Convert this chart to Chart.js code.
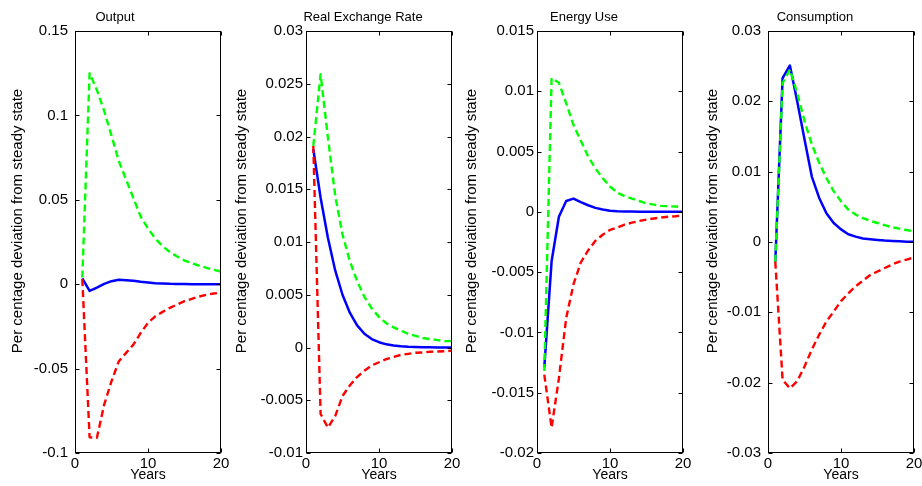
<!DOCTYPE html>
<html>
<head>
<meta charset="utf-8">
<title>Impulse responses</title>
<script src="https://cdn.jsdelivr.net/npm/chart.js@4.4.0/dist/chart.umd.min.js"></script>
<style>
  body { margin: 0; background: #fff; }
  #wrap { position: relative; width: 922px; height: 486px; overflow: hidden; background: #fff; }
  #wrap canvas { position: absolute; top: 0; }
</style>
</head>
<body>
<div id="wrap"></div>
<script>
const years = [1, 2, 3, 4, 5, 6, 7, 8, 9, 10, 11, 12, 13, 14, 15, 16, 17, 18, 19, 20];

// Output
const outputMid = [0.0034, -0.004, -0.002, 0.0002, 0.0018, 0.0026, 0.0024, 0.002, 0.0014, 0.001, 0.0006, 0.0004, 0.0002, 0.0001, 0.0001, 0, 0, 0, 0, 0];
const outputUpper = [0.004, 0.125, 0.115, 0.1026, 0.088, 0.073, 0.062, 0.051, 0.04, 0.033, 0.027, 0.0225, 0.019, 0.0164, 0.014, 0.0125, 0.011, 0.0097, 0.0085, 0.0075];
const outputLower = [0.003, -0.0907, -0.091, -0.0713, -0.0575, -0.0457, -0.0407, -0.0358, -0.0289, -0.0229, -0.019, -0.0164, -0.014, -0.012, -0.01, -0.0087, -0.0073, -0.0063, -0.0055, -0.005];

// Real exchange rate
const rerMid = [0.0188, 0.0142, 0.0104, 0.0073, 0.005, 0.0033, 0.0021, 0.0013, 0.0008, 0.0005, 0.0003, 0.0002, 0.00012, 0.00007, 0.00005, 0.00003, 0.00002, 0.00001, 0, 0];
const rerUpper = [0.0191, 0.0259, 0.0199, 0.0144, 0.0107, 0.0082, 0.0063, 0.0048, 0.0037, 0.0029, 0.0023, 0.0019, 0.0016, 0.0013, 0.0011, 0.0009, 0.0008, 0.0007, 0.0006, 0.0006];
const rerLower = [0.0191, -0.0063, -0.0076, -0.0065, -0.0046, -0.0036, -0.0028, -0.0022, -0.0017, -0.0014, -0.0011, -0.0009, -0.0007, -0.0006, -0.0005, -0.00047, -0.0004, -0.00038, -0.00035, -0.0003];

// Energy use
const energyMid = [-0.0129, -0.0041, -0.0004, 0.0009, 0.0011, 0.0008, 0.00055, 0.00033, 0.0002, 0.0001, 0.00005, 0.00003, 0.00002, 0.00001, 0, 0, 0, 0, 0, 0];
const energyUpper = [-0.0132, 0.0111, 0.0107, 0.009, 0.0072, 0.0059, 0.0046, 0.0036, 0.0028, 0.0021, 0.0016, 0.0013, 0.0011, 0.0009, 0.0007, 0.0006, 0.0005, 0.00047, 0.00044, 0.0004];
const energyLower = [-0.0135, -0.0179, -0.0138, -0.0088, -0.006, -0.0042, -0.0032, -0.0024, -0.0019, -0.0015, -0.0013, -0.00105, -0.0009, -0.00075, -0.00064, -0.00055, -0.00047, -0.0004, -0.00036, -0.0003];

// Consumption
const consMid = [-0.0028, 0.0233, 0.0251, 0.02, 0.0146, 0.0093, 0.0063, 0.0041, 0.0027, 0.0018, 0.0011, 0.00076, 0.0005, 0.0004, 0.0003, 0.0002, 0.00014, 0.0001, 0.00005, 0.00005];
const consUpper = [-0.0028, 0.0226, 0.0245, 0.0212, 0.0172, 0.0139, 0.0113, 0.0091, 0.0072, 0.0058, 0.0046, 0.0039, 0.0034, 0.003, 0.0027, 0.0024, 0.0021, 0.0019, 0.0017, 0.0015];
const consLower = [-0.0028, -0.0196, -0.0208, -0.0198, -0.0177, -0.0153, -0.0132, -0.0113, -0.0099, -0.0084, -0.0073, -0.0063, -0.0055, -0.0047, -0.0042, -0.0037, -0.0032, -0.0028, -0.0025, -0.0022];

const panelTitles = ['Output', 'Real Exchange Rate', 'Energy Use', 'Consumption'];
const yMin = [-0.1, -0.01, -0.02, -0.03];
const yMax = [0.15, 0.03, 0.015, 0.03];
const yStep = [0.05, 0.005, 0.005, 0.01];
const xTicks = [0, 10, 20];
const yTitle = 'Per centage deviation from steady state';
const xTitle = 'Years';

const panelSeries = [
    [outputMid, outputUpper, outputLower],
    [rerMid, rerUpper, rerLower],
    [energyMid, energyUpper, energyLower],
    [consMid, consUpper, consLower]
];

const FONT = '"Liberation Sans", Arial, sans-serif';
const CANVAS_W = 241;
const CANVAS_H = 486;
const AXIS_W = 75;     // space left of the plot box
const PLOT_W = 146;
const STEP_X = 231;    // distance between panels

// per panel placement of the hand-placed labels (relative to each canvas)
const titleX = [115, 132, 122, 122];
const yTitleX = [18, 11, 10, 20];
const yLabelPad = [7, 3, 3, 7];

function toPoints(values) {
    return years.map((yr, i) => ({ x: yr, y: values[i] }));
}

function fmt(v) {
    return String(parseFloat(v.toFixed(4)));
}

// MATLAB-like box with inward ticks on all four sides
const boxPlugin = {
    id: 'boxTicks',
    afterDatasetsDraw(chart) {
        const ctx = chart.ctx;
        const a = chart.chartArea;
        const L = Math.round(a.left) + 0.5;
        const R = Math.round(a.right) - 0.5;
        const T = Math.round(a.top) + 0.5;
        const B = Math.round(a.bottom) - 0.5;
        ctx.save();
        ctx.strokeStyle = '#000';
        ctx.lineWidth = 1;
        ctx.beginPath();
        chart.scales.y.ticks.forEach(t => {
            const py = Math.round(chart.scales.y.getPixelForValue(t.value)) + 0.5;
            ctx.moveTo(L, py); ctx.lineTo(L + 4, py);
            ctx.moveTo(R, py); ctx.lineTo(R - 4, py);
        });
        chart.scales.x.ticks.forEach(t => {
            const px = Math.round(chart.scales.x.getPixelForValue(t.value)) + 0.5;
            ctx.moveTo(px, B); ctx.lineTo(px, B - 4);
            ctx.moveTo(px, T); ctx.lineTo(px, T + 4);
        });
        ctx.stroke();
        ctx.strokeRect(L, T, R - L, B - T);
        ctx.restore();
    }
};

const labelPlugin = {
    id: 'panelLabels',
    afterDraw(chart, args, opts) {
        const ctx = chart.ctx;
        ctx.save();
        ctx.fillStyle = '#000';
        ctx.textAlign = 'center';
        ctx.textBaseline = 'middle';
        ctx.font = '13px ' + FONT;
        ctx.fillText(opts.title, opts.titleX, 17);
        ctx.translate(opts.yTitleX, 221);
        ctx.rotate(-Math.PI / 2);
        ctx.font = '15px ' + FONT;
        ctx.fillText(opts.yTitle, 0, 0);
        ctx.restore();
    }
};

function makePanel(idx) {
    const wrap = document.getElementById('wrap');
    const canvas = document.createElement('canvas');
    canvas.width = CANVAS_W;
    canvas.height = CANVAS_H;
    canvas.style.width = CANVAS_W + 'px';
    canvas.style.height = CANVAS_H + 'px';
    canvas.style.left = (idx * STEP_X) + 'px';
    wrap.appendChild(canvas);

    const [mid, upper, lower] = panelSeries[idx];

    return new Chart(canvas.getContext('2d'), {
        type: 'line',
        data: {
            datasets: [
                { label: 'lower', data: toPoints(lower), borderColor: '#ff0000', borderWidth: 2.4, borderDash: [7, 4] },
                { label: 'upper', data: toPoints(upper), borderColor: '#00ff00', borderWidth: 2.4, borderDash: [7, 4] },
                { label: 'mid', data: toPoints(mid), borderColor: '#0000ff', borderWidth: 2.5 }
            ]
        },
        options: {
            responsive: false,
            animation: false,
            events: [],
            elements: {
                point: { radius: 0 },
                line: { tension: 0, fill: false, borderJoinStyle: 'round' }
            },
            layout: {
                padding: { top: 31, bottom: 0, left: 0, right: CANVAS_W - AXIS_W - PLOT_W }
            },
            plugins: {
                legend: { display: false },
                tooltip: { enabled: false },
                panelLabels: {
                    title: panelTitles[idx],
                    titleX: titleX[idx],
                    yTitle: yTitle,
                    yTitleX: yTitleX[idx]
                }
            },
            scales: {
                x: {
                    type: 'linear',
                    min: 0,
                    max: 20,
                    afterBuildTicks: s => { s.ticks = xTicks.map(v => ({ value: v })); },
                    ticks: {
                        color: '#000',
                        font: { family: FONT, size: 15 },
                        padding: 2,
                        maxRotation: 0,
                        callback: v => fmt(v)
                    },
                    grid: { display: false, drawTicks: false },
                    border: { display: false },
                    title: {
                        display: true,
                        text: xTitle,
                        color: '#000',
                        font: { family: FONT, size: 14 },
                        padding: { top: 0, bottom: 2 }
                    },
                    afterFit: s => { s.height = 33; s.paddingLeft = 0; s.paddingRight = 0; }
                },
                y: {
                    min: yMin[idx],
                    max: yMax[idx],
                    ticks: {
                        stepSize: yStep[idx],
                        color: '#000',
                        font: { family: FONT, size: 15 },
                        padding: yLabelPad[idx],
                        callback: v => fmt(v)
                    },
                    grid: { display: false, drawTicks: false },
                    border: { display: false },
                    afterFit: s => { s.width = AXIS_W; s.paddingTop = 0; s.paddingBottom = 0; }
                }
            }
        },
        plugins: [boxPlugin, labelPlugin]
    });
}

for (let i = 0; i < 4; i++) {
    makePanel(i);
}
</script>
</body>
</html>
